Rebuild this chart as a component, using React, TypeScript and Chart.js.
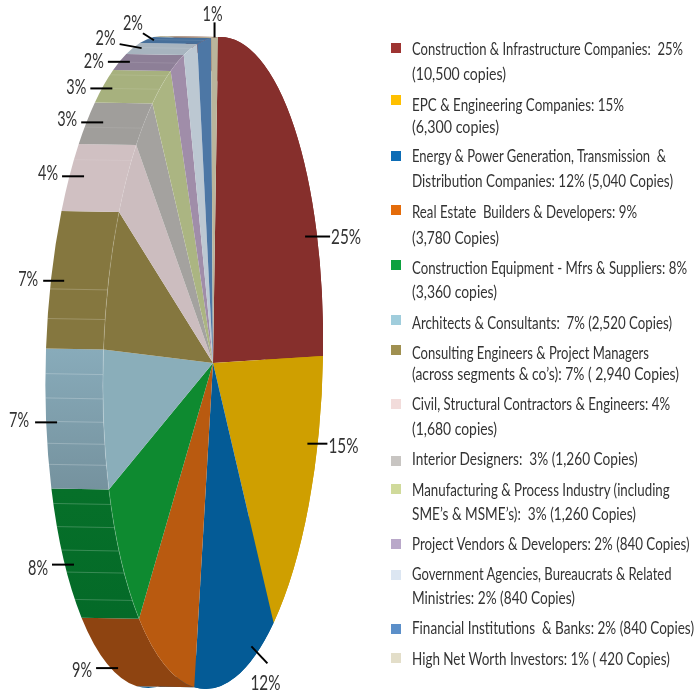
import React, { useEffect, useRef } from "react";
import { Chart, registerables } from "chart.js";

Chart.register(...registerables);

const categories = [
  "Construction & Infrastructure Companies",
  "EPC & Engineering Companies",
  "Energy & Power Generation, Transmission & Distribution Companies",
  "Real Estate Builders & Developers",
  "Construction Equipment - Mfrs & Suppliers",
  "Architects & Consultants",
  "Consulting Engineers & Project Managers",
  "Civil, Structural Contractors & Engineers",
  "Interior Designers",
  "Manufacturing & Process Industry",
  "Project Vendors & Developers",
  "Government Agencies, Bureaucrats & Related Ministries",
  "Financial Institutions & Banks",
  "High Net Worth Investors",
];
const shares = [25, 15, 12, 9, 8, 7, 7, 4, 3, 3, 2, 2, 2, 1];

const legendLines = [
  ["Construction & Infrastructure Companies:  25%", "(10,500 copies)"],
  ["EPC & Engineering Companies: 15%", "(6,300 copies)"],
  ["Energy & Power Generation, Transmission  &", "Distribution Companies: 12% (5,040 Copies)"],
  ["Real Estate  Builders & Developers: 9%", "(3,780 Copies)"],
  ["Construction Equipment - Mfrs & Suppliers: 8%", "(3,360 copies)"],
  ["Architects & Consultants:  7% (2,520 Copies)"],
  ["Consulting Engineers & Project Managers", "(across segments & co\u2019s): 7% ( 2,940 Copies)"],
  ["Civil, Structural Contractors & Engineers: 4%", "(1,680 copies)"],
  ["Interior Designers:  3% (1,260 Copies)"],
  ["Manufacturing & Process Industry (including", "SME\u2019s & MSME\u2019s):  3% (1,260 Copies)"],
  ["Project Vendors & Developers: 2% (840 Copies)"],
  ["Government Agencies, Bureaucrats & Related", "Ministries: 2% (840 Copies)"],
  ["Financial Institutions  & Banks: 2% (840 Copies)"],
  ["High Net Worth Investors: 1% ( 420 Copies)"],
];

const faceColors = ["#862f2c", "#cf9f00", "#045b96", "#b95a10", "#0e8a30", "#8aaeba", "#85773f", "#ccbdbf", "#a4a29f", "#abb582", "#a08da9", "#bcc8d2", "#4d77a5", "#bab59c"];
const sideStart = ["#862f2c", "#cf9f00", "#045b96", "#8e4411", "#046a28", "#75929e", "#85773f", "#d0c0c2", "#a09e9b", "#a7b17e", "#8d7f97", "#a7b4bf", "#466f9a", "#bab59c"];
const sideEnd = ["#862f2c", "#cf9f00", "#045b96", "#8e4411", "#067029", "#88abba", "#85773f", "#d0c0c2", "#a09e9b", "#a7b17e", "#8d7f97", "#a7b4bf", "#466f9a", "#bab59c"];
const legendColors = ["#9e3432", "#ffc000", "#0d6cb5", "#e46c0a", "#0ca13f", "#a0cddc", "#a09050", "#f2dcdb", "#c8c5c2", "#d0da9b", "#b9a8c9", "#dce6f2", "#5b8fc9", "#e3dec9"];

// Faint ridges on the side wall: fraction along each slice, and how visible they are
const bandFractions = [[], [], [], [], [0.17, 0.4, 0.57, 0.74, 0.9], [0.18, 0.333, 0.49, 0.655, 0.825], [0.21, 0.42], [0.75], [0.38], [0.4, 0.83], [0.46], [0.55], [0.5], []];
const bandAlpha = [0, 0, 0, 0, 0.3, 0.32, 0.3, 0.12, 0.12, 0.14, 0.14, 0.14, 0.14, 0];

// Layout of the projected pie
const CENTER = { x: 213, y: 363 };
const AXIS_U = { x: 110, y: -7 };
const AXIS_V = { x: -5, y: 326 };
const DEPTH = { x: -57.5, y: -1 };

// Leader anchor: fraction along the slice, depth along the side wall, radial factor, direction, label offset
const leaderFrac = [0.73, 0.315, 0.28, 0.44, 0.46, 0.484, 0.48, 0.5, 0.5, 0.4, 0.49, 0.5, 0.4, 0.5];
const leaderDepth = [0, 0, 0, 0.87, 0.84, 0.81, 0.77, 0.746, 0.71, 0.82, 0.82, 0.85, 0.85, 0];
const leaderRadial = [0.9, 0.91, 0.96, 1, 1, 1, 1, 1, 1, 1, 1, 1, 1, 1];
const leaderVec = [[25, 0], [20, 0], [16, 17], [-22, 0], [-22, 0], [-22, 0], [-21, 0], [-22, 0], [-22, 0], [-22, 0], [-22, 0], [-22, -4], [-11, -7], [0, -15]];
const labelVec = [[16, 0], [16, 2], [-2, 20], [-14, 2], [-14, 3], [-16, -2], [-15, -2], [-14, -3], [-14, -3], [-14, -2], [-14, -1], [-14, -6], [-10, -10], [-2, -8]];

const legendLeft = 412;
const legendSwatchY = [48, 100, 156, 210, 265, 320, 350, 404, 461, 489, 544, 575, 629, 658];
const legendLineY = [[48, 73], [104, 126], [155, 180], [211, 237], [267, 291], [322], [352, 373], [403, 428], [458], [489, 513], [543], [573, 597], [627], [658]];
const legendRight = [[683, 506], [624, 499], [667, 673], [637, 499], [687, 497], [672], [649, 679], [670, 497], [638], [670, 636], [690], [672, 575], [694], [670]];

const FONT = 'Lato, "Liberation Sans", sans-serif';
const LEGEND_PX = 18;

let measureCtx: CanvasRenderingContext2D | null = null;
function textWidth(text: string, font: string) {
  if (!measureCtx) measureCtx = document.createElement("canvas").getContext("2d");
  (measureCtx as CanvasRenderingContext2D).font = font;
  return (measureCtx as CanvasRenderingContext2D).measureText(text).width;
}

function project(alpha: number, depth: number, radial = 1) {
  const u = Math.cos(alpha) * radial;
  const v = Math.sin(alpha) * radial;
  return {
    x: CENTER.x + AXIS_U.x * u + AXIS_V.x * v + DEPTH.x * depth,
    y: CENTER.y + AXIS_U.y * u + AXIS_V.y * v + DEPTH.y * depth,
  };
}

const piePlugin = {
  id: "projectedPie",
  beforeDatasetsDraw(chart: any) {
    const ctx: CanvasRenderingContext2D = chart.ctx;
    const arcs = chart.getDatasetMeta(0).data;
    const base = ctx.getTransform();
    const { x: cx, y: cy, outerRadius: R } = arcs[0];
    const faceMatrix = (dx: number, dy: number) => {
      ctx.setTransform(base);
      ctx.translate(CENTER.x + dx, CENTER.y + dy);
      ctx.transform(AXIS_U.x / R, AXIS_U.y / R, AXIS_V.x / R, AXIS_V.y / R, 0, 0);
      ctx.translate(-cx, -cy);
    };

    ctx.save();
    arcs.forEach((arc: any, i: number) => {
      const a0 = arc.startAngle;
      const a1 = arc.endAngle;
      ctx.beginPath();
      faceMatrix(DEPTH.x, DEPTH.y);
      ctx.arc(cx, cy, R, a0, a1);
      faceMatrix(0, 0);
      ctx.arc(cx, cy, R, a1, a0, true);
      ctx.closePath();
      ctx.setTransform(base);
      const p0 = project(a0, 0);
      const p1 = project(a1, 0);
      const g = ctx.createLinearGradient(0, p0.y, 0, Math.abs(p1.y - p0.y) < 1 ? p0.y + 1 : p1.y);
      g.addColorStop(0, sideStart[i]);
      g.addColorStop(1, sideEnd[i]);
      ctx.fillStyle = g;
      ctx.fill();

      ctx.strokeStyle = `rgba(255,255,255,${bandAlpha[i]})`;
      ctx.lineWidth = 0.7;
      bandFractions[i].forEach((f) => {
        const a = a0 + (a1 - a0) * f;
        const q0 = project(a, 0);
        const q1 = project(a, 1);
        ctx.beginPath();
        ctx.moveTo(q0.x, q0.y);
        ctx.lineTo(q1.x, q1.y);
        ctx.stroke();
      });
    });
    ctx.restore();

    ctx.save();
    faceMatrix(0, 0);
  },
  afterDatasetsDraw(chart: any) {
    const ctx: CanvasRenderingContext2D = chart.ctx;
    ctx.restore();
    const arcs = chart.getDatasetMeta(0).data;

    ctx.save();
    // faint seam along the front rim of the visible wall
    arcs.forEach((arc: any, i: number) => {
      if (bandAlpha[i] <= 0) return;
      ctx.strokeStyle = `rgba(255,255,255,${bandAlpha[i] * 0.8})`;
      ctx.lineWidth = 0.7;
      ctx.beginPath();
      for (let k = 0; k <= 12; k++) {
        const a = arc.startAngle + ((arc.endAngle - arc.startAngle) * k) / 12;
        const p = project(a, 0);
        if (k === 0) ctx.moveTo(p.x, p.y);
        else ctx.lineTo(p.x, p.y);
      }
      ctx.stroke();
    });

    // leader lines and percentage labels
    ctx.font = `22px ${FONT}`;
    ctx.textAlign = "center";
    ctx.textBaseline = "middle";
    arcs.forEach((arc: any, i: number) => {
      const a = arc.startAngle + (arc.endAngle - arc.startAngle) * leaderFrac[i];
      const p = project(a, leaderDepth[i], leaderRadial[i]);
      const end = { x: p.x + leaderVec[i][0], y: p.y + leaderVec[i][1] };
      ctx.strokeStyle = "#000";
      ctx.lineWidth = 2;
      ctx.beginPath();
      ctx.moveTo(p.x, p.y);
      ctx.lineTo(end.x, end.y);
      ctx.stroke();
      ctx.fillStyle = "#333";
      const text = `${shares[i]}%`;
      const target = text.length === 2 ? 20 : 30;
      ctx.save();
      ctx.translate(end.x + labelVec[i][0], end.y + labelVec[i][1]);
      ctx.scale(target / ctx.measureText(text).width, 1);
      ctx.fillText(text, 0, 0);
      ctx.restore();
    });
    ctx.restore();
  },
};

export default function App() {
  const ref = useRef<HTMLCanvasElement>(null);
  useEffect(() => {
    const chart = new Chart(ref.current as HTMLCanvasElement, {
      type: "pie",
      data: {
        labels: categories,
        datasets: [{ data: shares, backgroundColor: faceColors, borderWidth: 0 }],
      },
      options: {
        responsive: false,
        animation: false,
        rotation: 0,
        layout: { padding: 0 },
        plugins: { legend: { display: false }, tooltip: { enabled: false } },
      },
      plugins: [piePlugin],
    } as any);
    return () => chart.destroy();
  }, []);

  const legendFont = `${LEGEND_PX}px ${FONT}`;
  return (
    <div style={{ position: "absolute", left: 0, top: 0, width: 694, height: 693, background: "#fff", overflow: "hidden" }}>
      <canvas ref={ref} width={694} height={693} style={{ position: "absolute", left: 0, top: 0 }} />
      {legendLines.map((lines, i) => (
        <React.Fragment key={i}>
          <div
            style={{
              position: "absolute",
              left: 391,
              top: legendSwatchY[i] - 5,
              width: 10,
              height: 10,
              background: legendColors[i],
            }}
          />
          {lines.map((line, j) => (
            <div
              key={j}
              style={{
                position: "absolute",
                left: legendLeft,
                top: legendLineY[i][j] - 10,
                height: 20,
                font: `${legendFont}`,
                lineHeight: "20px",
                color: "#333",
                whiteSpace: "pre",
                transformOrigin: "0 50%",
                transform: `scaleX(${(legendRight[i][j] - legendLeft) / textWidth(line, legendFont)})`,
              }}
            >
              {line}
            </div>
          ))}
        </React.Fragment>
      ))}
    </div>
  );
}
